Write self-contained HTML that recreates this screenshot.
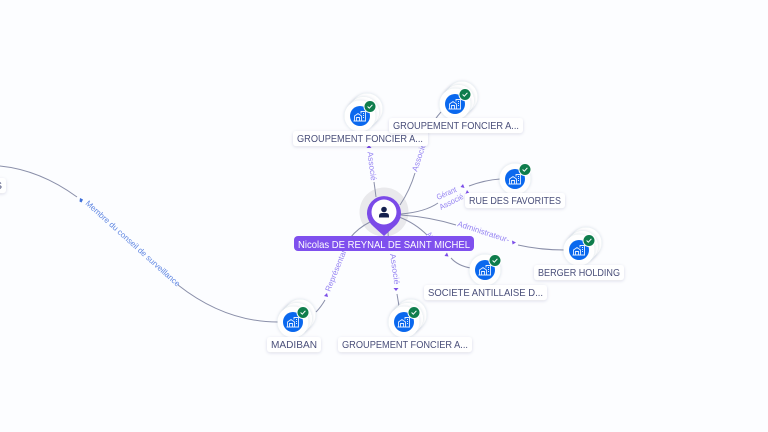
<!DOCTYPE html>
<html>
<head>
<meta charset="utf-8">
<style>
html,body{margin:0;padding:0;background:#fcfdff;}
svg{display:block;}
text{font-family:"Liberation Sans",sans-serif;}
.e{fill:none;stroke:#8a8fa9;stroke-width:1;}
.el{font-size:8px;fill:#9583f2;}
.a{fill:#7c4fe8;}
.l{font-size:10.500px;fill:#4a4f7a;}
.p{fill:#fff;filter:url(#ps);}
</style>
</head>
<body>
<svg width="768" height="432" viewBox="0 0 768 432" xmlns="http://www.w3.org/2000/svg">
<defs>
<filter id="ps" x="-20%" y="-40%" width="140%" height="180%"><feDropShadow dx="0" dy="1" stdDeviation="1.500" flood-color="#30355a" flood-opacity=".14"/></filter>
<filter id="cs" x="-30%" y="-30%" width="160%" height="160%"><feDropShadow dx="0" dy="0" stdDeviation="1.500" flood-color="#30355a" flood-opacity=".18"/></filter>
<g id="ic">
<circle cx="0" cy="0" r="15.500" fill="#fff" filter="url(#cs)"/>
<circle cx="0" cy="0" r="10" fill="#0a68ee"/>
<path d="M-5.500 5V0L-2 -2.500L1.500 0V5M-3.500 5V1.500H-.5V5M1 -2.500V-4.500H5.500V5H-6.500M3 -2.500H4M3 -.5H4M3 1.500H4" fill="none" stroke="#e4eeff" stroke-width=".9"/>
<circle cx="10" cy="-9.500" r="6.500" fill="#fff"/>
<circle cx="10" cy="-9.500" r="5.500" fill="#0f7d4c"/>
<path d="M7.600 -9.500L9.300 -7.800L12.400 -11.200" fill="none" stroke="#fff" stroke-width="1"/>
</g>
<g id="st">
<circle cx="7" cy="-7" r="15.500" fill="#fff" filter="url(#cs)"/>
<circle cx="3.500" cy="-3.500" r="15.500" fill="#fff" filter="url(#cs)"/>
<use href="#ic"/>
</g>
</defs>
<rect width="768" height="432" fill="#fcfdff"/>

<circle cx="384" cy="212" r="24.500" fill="#e9e9ec"/>

<!-- connectors -->
<path class="e" d="M376 197Q375 189 374 182"/>
<path class="e" d="M400 205Q410 190 415 173"/>
<path class="e" d="M428 133Q432 122 441 112"/>
<path class="e" d="M401 214Q425 212 438 203"/>
<path class="e" d="M469 186Q485 180 500 179"/>
<path class="e" d="M401 215Q430 217 456 225"/>
<path class="e" d="M518 245Q540 250 565 250"/>
<path class="e" d="M399 217Q415 223 427 235"/>
<path class="e" d="M451 258Q458 266 471 268"/>
<path class="e" d="M388 232L389 250"/>
<path class="e" d="M397 294L399 306"/>
<path class="e" d="M370 222Q358 228 350 238"/>
<path class="e" d="M325 300Q321 307 316 312"/>
<path class="e" d="M0 166Q40 170 77 197"/>
<path class="e" d="M178 285Q225 322 278 322"/>

<!-- arrowheads -->
<path class="a" d="M369 145l2.500 3h-5z"/>
<path class="a" d="M463 184l1.500 4-4-1z"/>
<path class="a" d="M467 190l2.500 3.500-4 .5z"/>
<path class="a" d="M516 242.500l-3.500 2-.5-4z"/>
<path class="a" d="M447 252.500l1.500 4-4-.5z"/>
<path class="a" d="M396 291l-2.500-3h5z"/>
<path class="a" d="M327 293l1 4-4-1z"/>
<path d="M80 198l3 1.500-1.500 3-2-1z" fill="#3f6fd8"/>

<!-- edge labels -->
<text class="el" transform="translate(367.500,152) rotate(83)" textLength="29" lengthAdjust="spacingAndGlyphs">Associé</text>
<text class="el" transform="translate(417,172) rotate(-72)" textLength="29" lengthAdjust="spacingAndGlyphs">Associé</text>
<text class="el" transform="translate(438,200) rotate(-24)" textLength="21" lengthAdjust="spacingAndGlyphs">Gérant</text>
<text class="el" transform="translate(441,210) rotate(-27)" textLength="26" lengthAdjust="spacingAndGlyphs">Associé</text>
<text class="el" transform="translate(457,226) rotate(18)" textLength="54" lengthAdjust="spacingAndGlyphs">Administrateur-</text>
<text class="el" transform="translate(390,254) rotate(82)" textLength="31" lengthAdjust="spacingAndGlyphs">Associé</text>
<text class="el" transform="translate(426,235) rotate(45)" textLength="22" lengthAdjust="spacingAndGlyphs">Associé</text>
<text class="el" transform="translate(330,292) rotate(-68)" textLength="48" lengthAdjust="spacingAndGlyphs">Représentant</text>
<text class="el" style="fill:#5f86e2" transform="translate(85,204) rotate(42)" textLength="124" lengthAdjust="spacingAndGlyphs">Membre du conseil de surveillance</text>

<!-- nodes -->
<use href="#st" x="360" y="116"/>
<use href="#st" x="455" y="104"/>
<use href="#ic" x="515" y="179"/>
<use href="#st" x="579" y="250"/>
<use href="#ic" x="485" y="270"/>
<use href="#st" x="293" y="322"/>
<use href="#st" x="404" y="322"/>

<!-- main pin -->
<path d="M384 236L373.500 226.500A17 17 0 1 1 394.500 226.500Z" fill="#7b4ae8"/>
<circle cx="384" cy="212" r="12.500" fill="#fff"/>
<circle cx="384" cy="209.500" r="2.800" fill="#14204e"/>
<path d="M379 217.500v-1.500q0-3 3-3h4q3 0 3 3v1.500z" fill="#14204e"/>

<!-- pills -->
<rect class="p" x="293" y="131" width="135" height="15" rx="3"/>
<text class="l" x="297" y="142" textLength="126" lengthAdjust="spacingAndGlyphs">GROUPEMENT FONCIER A...</text>
<rect class="p" x="389" y="118" width="134" height="15" rx="3"/>
<text class="l" x="393" y="129" textLength="126" lengthAdjust="spacingAndGlyphs">GROUPEMENT FONCIER A...</text>
<rect class="p" x="465" y="193" width="100" height="15" rx="3"/>
<text class="l" x="469" y="204" textLength="92" lengthAdjust="spacingAndGlyphs">RUE DES FAVORITES</text>
<rect class="p" x="534" y="265" width="90" height="15" rx="3"/>
<text class="l" x="538" y="276" textLength="82" lengthAdjust="spacingAndGlyphs">BERGER HOLDING</text>
<rect class="p" x="424" y="285" width="123" height="15" rx="3"/>
<text class="l" x="428" y="296" textLength="115" lengthAdjust="spacingAndGlyphs">SOCIETE ANTILLAISE D...</text>
<rect class="p" x="267" y="337" width="54" height="15" rx="3"/>
<text class="l" x="271" y="348" textLength="46" lengthAdjust="spacingAndGlyphs">MADIBAN</text>
<rect class="p" x="338" y="337" width="134" height="15" rx="3"/>
<text class="l" x="342" y="348" textLength="126" lengthAdjust="spacingAndGlyphs">GROUPEMENT FONCIER A...</text>
<rect class="p" x="-20" y="178" width="26" height="15" rx="3"/>
<text class="l" x="-5" y="189">S</text>

<rect x="294" y="236" width="180" height="15" rx="4" fill="#7f50ee"/>
<text x="298" y="248" font-size="10.500" fill="#fff" textLength="172" lengthAdjust="spacingAndGlyphs">Nicolas DE REYNAL DE SAINT MICHEL</text>
</svg>
</body>
</html>
